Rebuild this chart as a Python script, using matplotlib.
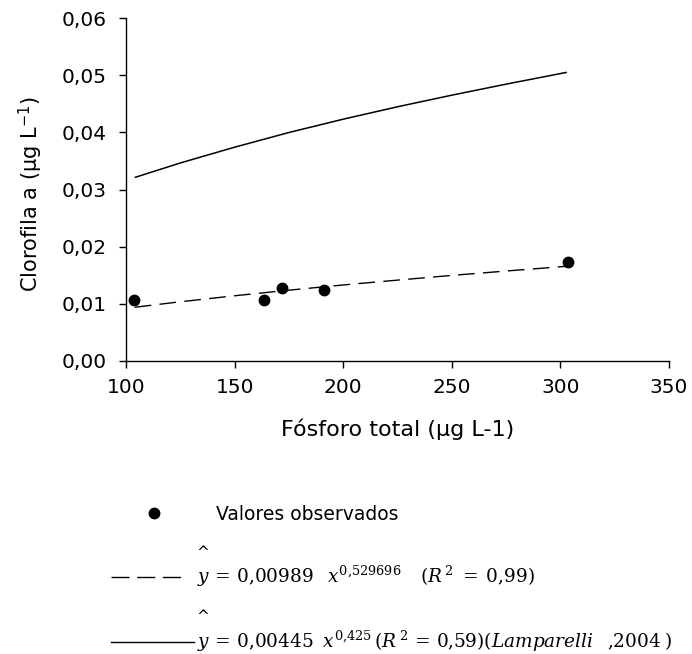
import matplotlib
matplotlib.use("Agg")
import matplotlib.pyplot as plt
from matplotlib.lines import Line2D

plt.rcParams['font.family'] = ['DejaVu Sans']
plt.rcParams['mathtext.fontset'] = 'dejavuserif'

# observed values
obs_x = [103.5, 163.6, 171.7, 191.0, 303.3]
obs_y = [0.0107, 0.0107, 0.0127, 0.0124, 0.0174]

# fitted curve (dashed)
fit_x = [104, 125, 150, 175, 200, 225, 250, 275, 303]
fit_y = [0.00940, 0.01036, 0.01141, 0.01239, 0.01330, 0.01415, 0.01497, 0.01574, 0.01657]

# Lamparelli (2004) curve (solid)
lam_x = [104, 125, 150, 175, 200, 225, 250, 275, 303]
lam_y = [0.0321, 0.03464, 0.0374, 0.03997, 0.0423, 0.04447, 0.0465, 0.04843, 0.0505]

xticks = [100, 150, 200, 250, 300, 350]
xticklabels = ['100', '150', '200', '250', '300', '350']
yticks = [0.00, 0.01, 0.02, 0.03, 0.04, 0.05, 0.06]
yticklabels = ['0,00', '0,01', '0,02', '0,03', '0,04', '0,05', '0,06']

W, H = 692, 654
fig = plt.figure(figsize=(W / 100, H / 100), dpi=100)
ax = fig.add_axes([126 / W, 1 - 361 / H, (669 - 126) / W, (361 - 18) / H])

ax.plot(lam_x, lam_y, color='black', lw=1.1, solid_capstyle='butt')
ax.plot(fit_x, fit_y, color='black', lw=1.0, dashes=(12, 6))
ax.plot(obs_x, obs_y, 'o', color='black', ms=7.5, zorder=5)

ax.set_xlim(100, 350)
ax.set_ylim(0, 0.06)
ax.set_xticks(xticks)
ax.set_xticklabels(xticklabels)
ax.set_yticks(yticks)
ax.set_yticklabels(yticklabels)
for s in ['top', 'right']:
    ax.spines[s].set_visible(False)
for s in ['left', 'bottom']:
    ax.spines[s].set_linewidth(1.0)
ax.tick_params(axis='both', direction='out', length=5, width=1.0, labelsize=14.5)
ax.tick_params(axis='x', pad=7)
ax.tick_params(axis='y', pad=9)


def fx(px):
    return px / W


def fy(py):
    return 1 - py / H


# axis titles
fig.text(fx(398), fy(436), 'Fósforo total (µg L-1)', fontsize=16,
         ha='center', va='baseline')
fig.text(fx(38), fy(194), r'Clorofila a (µg L$^{\mathsf{-1}}$)', fontsize=15,
         ha='center', va='baseline', rotation=90, rotation_mode='anchor')

# legend
fig.add_artist(Line2D([fx(154)], [fy(513)], marker='o', color='black', ms=7.5,
                      transform=fig.transFigure))
fig.text(fx(216), fy(520), 'Valores observados', fontsize=13.5, va='baseline', ha='left')

fig.add_artist(Line2D([fx(111), fx(182)], [fy(577), fy(577)], color='black', lw=1.0,
                      dashes=(13, 5.5), transform=fig.transFigure))
fig.text(fx(203), fy(552), '^', fontsize=11, va='center', ha='center')
fig.text(fx(197), fy(583),
         r'$y\,=\,0{,}00989\;\;\;x^{0{,}529696}\;\;\;\;(R^{\,2}\;=\;0{,}99)$',
         fontsize=13.3, va='baseline', ha='left')

fig.add_artist(Line2D([fx(111), fx(194)], [fy(642), fy(642)], color='black', lw=1.0,
                      transform=fig.transFigure))
fig.text(fx(203), fy(617), '^', fontsize=11, va='center', ha='center')
fig.text(fx(197), fy(648),
         r'$y\,=\,0{,}00445\;\;x^{0{,}425}\,(R^{\,2}\,=\,0{,}59)(Lamparelli\;\;\;{,}2004\;)$',
         fontsize=13.3, va='baseline', ha='left')

fig.savefig('out.png', dpi=100)
